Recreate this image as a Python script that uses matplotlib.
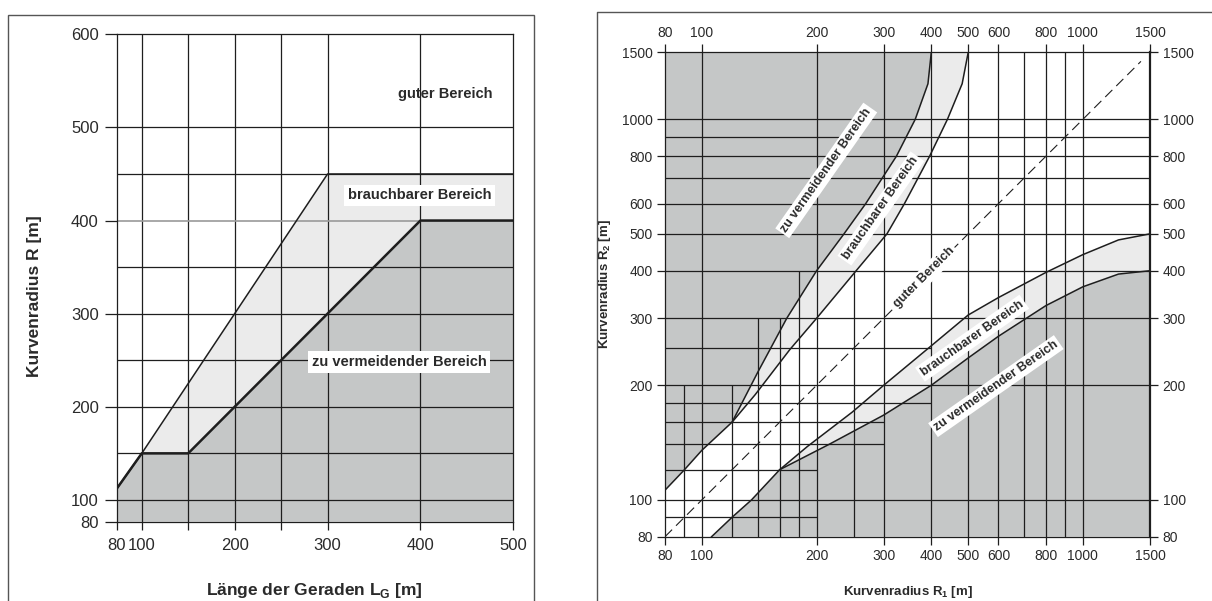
import numpy as np
import matplotlib.pyplot as plt
from matplotlib.patches import Rectangle
from matplotlib.lines import Line2D
from matplotlib.ticker import NullLocator

plt.rcParams['font.family'] = ['Liberation Sans', 'DejaVu Sans']
plt.rcParams['mathtext.fontset'] = 'custom'
plt.rcParams['mathtext.rm'] = 'Liberation Sans'
plt.rcParams['mathtext.bf'] = 'Liberation Sans:bold'

# ---- left chart: Länge der Geraden vs Kurvenradius ----
lg_ticks = [80, 100, 200, 300, 400, 500]
lg_minor = [150, 250]
lg_grid = [100, 150, 200, 250, 300, 400]
r_ticks = [80, 100, 200, 300, 400, 500, 600]
r_grid = [100, 150, 200, 250, 300, 350, 450, 500]
r_grey = 400
# boundary guter / brauchbarer Bereich
upper_lg = [80, 100, 300, 500]
upper_r = [112, 150, 450, 450]
# boundary brauchbarer / zu vermeidender Bereich
lower_lg = [80, 100, 150, 400, 500]
lower_r = [112, 150, 150, 400, 400]

# ---- right chart: R1 vs R2 (log) ----
rr_ticks = [80, 100, 200, 300, 400, 500, 600, 800, 1000, 1500]
rr_grid_full = [100, 200, 300, 400, 500, 600, 700, 800, 900, 1000]
rr_grid_part = [90, 120, 140, 160, 180, 250]
rr_grid_part_end = [200, 200, 300, 300, 400, 400]
# upper-left: zu vermeidender boundary (A) and brauchbarer boundary (B)
A_r1 = [80, 90, 100, 120, 140, 167, 200, 236, 269, 324, 363, 392, 400]
A_r2 = [106, 120, 135, 160, 216, 300, 400, 500, 600, 800, 1000, 1240, 1500]
B_r1 = [120, 138, 170, 200, 254, 306, 340, 396, 441, 482, 500]
B_r2 = [160, 189, 248, 300, 400, 500, 600, 800, 1000, 1240, 1500]
# lower-right: zu vermeidender boundary (C) and brauchbarer boundary (D)
C_r1 = [106, 120, 135, 160, 216, 300, 400, 500, 600, 800, 1000, 1240, 1500]
C_r2 = [80, 90, 100, 120, 140, 167, 200, 236, 269, 324, 363, 392, 400]
D_r1 = [160, 189, 248, 300, 400, 500, 600, 800, 1000, 1240, 1500]
D_r2 = [120, 138, 170, 200, 254, 306, 340, 396, 441, 482, 500]
diag = [80, 1420]

DARK = '#c5c7c7'
LIGHT = '#ebebeb'
LINE = '#1e1e1e'
TXT = '#2a2a2a'

W, H = 1212, 601
fig = plt.figure(figsize=(W / 100, H / 100), dpi=100)

# panel frames
fig.add_artist(Rectangle((8.3 / W, -0.05), (534.3 - 8.3) / W, 1.05 - 15 / H,
                         transform=fig.transFigure, fill=False, lw=1.0, ec='#555555'))
fig.add_artist(Line2D([597 / W, 597 / W, 1.0], [0.0, 1 - 12.3 / H, 1 - 12.3 / H],
                      transform=fig.transFigure, lw=1.0, color='#555555'))


# the source drawing stretches the 80..100 strip of the left chart
def stretch(k):
    fwd = lambda v: np.where(v < 100, 100 - (100 - v) * k, v)
    inv = lambda v: np.where(v < 100, 100 - (100 - v) / k, v)
    return fwd, inv


# ================= left chart =================
axL = fig.add_axes([116.7 / W, 1 - 521.7 / H, (513.3 - 116.7) / W, (521.7 - 34.3) / H])
axL.set_xscale('function', functions=stretch(1.35))
axL.set_yscale('function', functions=stretch(1.17))
axL.set_xlim(80, 500)
axL.set_ylim(80, 600)

axL.fill([80] + lower_lg + [500], [80] + lower_r + [80], color=DARK, lw=0, zorder=1)
axL.fill(upper_lg + lower_lg[::-1], upper_r + lower_r[::-1], color=LIGHT, lw=0, zorder=1)

for v in lg_grid:
    axL.axvline(v, color=LINE, lw=0.9, zorder=2)
for v in r_grid:
    axL.axhline(v, color=LINE, lw=0.9, zorder=2)
axL.axhline(r_grey, color='#9a9a9a', lw=1.2, zorder=2)

axL.plot(upper_lg, upper_r, color=LINE, lw=1.1, zorder=3)
axL.plot([80] + lower_lg, [80] + lower_r, color=LINE, lw=1.8, zorder=3)

axL.set_xticks(lg_ticks)
axL.set_xticklabels([str(v) for v in lg_ticks])
axL.set_xticks(lg_minor, minor=True)
axL.set_yticks(r_ticks)
axL.set_yticklabels([str(v) for v in r_ticks])
axL.yaxis.set_minor_locator(NullLocator())
axL.tick_params(axis='x', which='both', length=6, width=0.9, pad=6, labelsize=12,
                colors=LINE, labelcolor=TXT)
axL.tick_params(axis='y', length=9, width=0.9, pad=4, labelsize=12,
                colors=LINE, labelcolor=TXT)
axL.yaxis.get_major_ticks()[r_ticks.index(r_grey)].tick1line.set_color('#9a9a9a')
for s in axL.spines.values():
    s.set_color(LINE)
    s.set_linewidth(0.9)
    s.set_zorder(4)

box = dict(boxstyle='square,pad=0.25', fc='white', ec='none')
axL.text(427, 536, 'guter Bereich', ha='center', va='center', fontsize=10.5,
         fontweight='bold', color=TXT, zorder=5)
axL.text(399, 427, 'brauchbarer Bereich', ha='center', va='center', fontsize=10.5,
         fontweight='bold', color=TXT, bbox=box, zorder=5)
axL.text(377, 248, 'zu vermeidender Bereich', ha='center', va='center', fontsize=10.5,
         fontweight='bold', color=TXT, bbox=box, zorder=5)

fig.text(35 / W, 1 - 296 / H, 'Kurvenradius R [m]', rotation=90, ha='center', va='center',
         fontsize=12.5, fontweight='bold', color=TXT)
fig.text(314 / W, 1 - 591 / H, r'Länge der Geraden L$_\mathbf{G}$ [m]', ha='center',
         va='center', fontsize=12.5, fontweight='bold', color=TXT)

# ================= right chart =================
axR = fig.add_axes([665 / W, 1 - 536.7 / H, 485 / W, (536.7 - 52.3) / H])
axR.set_xscale('log')
axR.set_yscale('log')
axR.set_xlim(80, 1500)
axR.set_ylim(80, 1500)

axR.fill(A_r1 + [80], A_r2 + [1500], color=DARK, lw=0, zorder=1)
axR.fill(A_r1[3:] + B_r1[::-1], A_r2[3:] + B_r2[::-1], color=LIGHT, lw=0, zorder=1)
axR.fill(C_r1 + [1500], C_r2 + [80], color=DARK, lw=0, zorder=1)
axR.fill(C_r1[3:] + D_r1[::-1], C_r2[3:] + D_r2[::-1], color=LIGHT, lw=0, zorder=1)

for v in rr_grid_full:
    axR.axvline(v, color=LINE, lw=0.9, zorder=2)
    axR.axhline(v, color=LINE, lw=0.9, zorder=2)
for v, e in zip(rr_grid_part, rr_grid_part_end):
    axR.vlines(v, 80, e, color=LINE, lw=0.9, zorder=2)
    axR.hlines(v, 80, e, color=LINE, lw=0.9, zorder=2)

for xs, ys in [(A_r1, A_r2), (B_r1, B_r2), (C_r1, C_r2), (D_r1, D_r2)]:
    axR.plot(xs, ys, color=LINE, lw=1.1, zorder=3)
axR.plot(diag, diag, color=LINE, lw=0.8, dashes=(9, 5), zorder=3)

axR.set_xticks(rr_ticks)
axR.set_xticklabels([str(v) for v in rr_ticks])
axR.set_yticks(rr_ticks)
axR.set_yticklabels([str(v) for v in rr_ticks])
axR.xaxis.set_minor_locator(NullLocator())
axR.yaxis.set_minor_locator(NullLocator())
axR.tick_params(axis='both', length=6, width=0.9, pad=3, labelsize=10, colors=LINE,
                labelcolor=TXT, top=True, right=True, labeltop=True, labelright=True)
for s in axR.spines.values():
    s.set_color(LINE)
    s.set_linewidth(0.9)
    s.set_zorder(4)
axR.spines['right'].set_linewidth(1.6)

rbox = dict(boxstyle='square,pad=0.2', fc='white', ec='none')
kw = dict(ha='center', va='center', fontsize=9, fontweight='bold', color=TXT,
          bbox=rbox, zorder=5, rotation_mode='anchor')
axR.text(212, 734, 'zu vermeidender Bereich', rotation=55, **kw)
axR.text(295, 583, 'brauchbarer Bereich', rotation=55, **kw)
axR.text(383, 384, 'guter Bereich', rotation=45, **kw)
axR.text(512, 266, 'brauchbarer Bereich', rotation=35, **kw)
axR.text(591, 199, 'zu vermeidender Bereich', rotation=35, **kw)

fig.text(605 / W, 1 - 284 / H, r'Kurvenradius R$_\mathbf{2}$ [m]', rotation=90, ha='center',
         va='center', fontsize=9.5, fontweight='bold', color=TXT)
fig.text(908 / W, 1 - 592 / H, r'Kurvenradius R$_\mathbf{1}$ [m]', ha='center',
         va='center', fontsize=9.5, fontweight='bold', color=TXT)

fig.savefig('out.png', dpi=100)
